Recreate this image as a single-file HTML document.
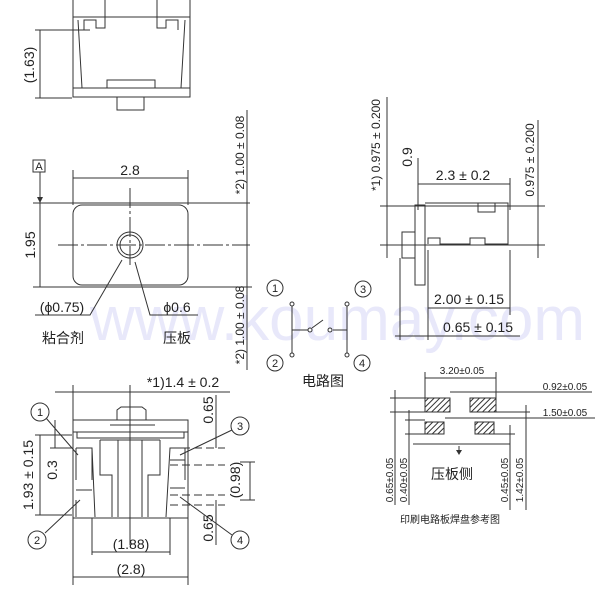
<!DOCTYPE html>
<html><head><meta charset="utf-8"><style>
html,body{margin:0;padding:0;background:#fff;width:600px;height:595px;overflow:hidden}
svg{display:block}
text{font-family:"Liberation Sans","Noto Sans CJK SC",sans-serif;fill:#222}
</style></head><body>
<svg width="600" height="595" viewBox="0 0 600 595" xmlns="http://www.w3.org/2000/svg">
<defs>
<pattern id="h" width="4" height="4" patternUnits="userSpaceOnUse" patternTransform="rotate(45)"><rect width="4" height="4" fill="#fff"/><line x1="0" y1="0" x2="0" y2="4" stroke="#333" stroke-width="2"/></pattern>
</defs>
<text x="90" y="340" font-size="62" fill="#e6e6f8" style="fill:#e8e8fa">www.koumay.com</text>
<g stroke="#333" stroke-width="1" fill="none">
<!-- top view -->
<path d="M73 0 V97 H190 V0"/>
<path d="M73 17 H190 M73 88 H190"/>
<path d="M105 0 V28 H96 V20 H84 V30"/>
<path d="M157 0 V28 H166 V20 H178 V30"/>
<path d="M78 20 L82 88 M185 20 L181 88"/>
<path d="M107 88 V80 H155 V88"/>
<path d="M117 97 V110 H144 V97"/>
<path d="M35 30 H90 M35 98 H72 M40 30 V98"/>
<!-- middle view -->
<rect x="73" y="205" width="115" height="80" rx="9"/>
<path d="M105 203 H155 M110 287 H160"/>
<circle cx="130" cy="245" r="13"/><circle cx="130" cy="245" r="10"/>
<path d="M130 188 V265 M58 245 H250" stroke-dasharray="20 3 3 3"/>
<path d="M73 170 V205 M188 170 V205 M73 178 H188"/>
<path d="M40 172 V287 M33 203 H250 M33 287 H252 M247 110 V370"/>
<path d="M122 260 L90 315 H35 M135 262 L150 315 H198"/>
<!-- bottom view -->
<path d="M55 392 H230 M73 385 V585 M130 385 V545"/>
<path d="M117 420 V410 L121 407 H142 L146 410 V420"/>
<rect x="73" y="420" width="115" height="98"/>
<path d="M73 432 H188 M110 425 H155 M77 432 V438 H184 V432"/>
<path d="M76 448 H92 L95 517 M185 448 H170 L166 517"/>
<path d="M76 448 V480 M92 448 V480 M76 490 H92 M76 500 V517 M185 448 V480 M170 460 H185 M170 488 H185"/>
<path d="M100 440 V475 H112 V517 M160 440 V475 H148 V517 M118 440 V517 M142 440 V517 M100 440 H160"/>
<path d="M92 518 V555 M170 518 V555 M92 552 H170 M188 518 V585 M73 577 H188"/>
<path d="M35 435 H72 M35 515 H72 M40 435 V515 M55 420 V448 M50 448 H72"/>
<path d="M170 448 H225 M170 465 H225 M170 495 H225 M170 505 H225" stroke-dasharray="8 4"/>
<path d="M216 395 V448 M216 500 V545 M250 462 V500 M240 462 H255 M240 500 H255"/>
<path d="M46 418 L78 455 M45 533 L80 500 M232 430 L180 455 M232 535 L180 497"/>
<!-- side view -->
<path d="M387 97 V258 M538 120 V258 M380 206 H545 M380 245 H545"/>
<path d="M418 158 V210 M510 178 V210 M418 184 H510"/>
<path d="M415 205 V285 H425 V205 Z M402 232 H415 V258 H402 Z"/>
<path d="M425 203 H508 V244 H485 V238 H470 V244 H440 V238 H428 V244 M478 203 V212 H495 V203"/>
<path d="M400 258 V340 M428 250 V340 M510 250 V315 M428 308 H510 M395 336 H520"/>
<!-- circuit -->
<path d="M292 304 V355 M292 330 H308 M312 328 L323 320 M333 330 H347 M347 304 V355"/>
<!-- PCB -->
<path d="M425 372 V398 M496 372 V398 M425 378 H496 M450 392 H592 M445 418 H595 M413 444 H510"/>
<path d="M390 398 H425 M390 412 H425 M395 390 V505 M405 420 H425 M405 434 H425 M409 410 V505"/>
<path d="M496 412 H530 M494 434 H515 M510 425 V510 M526 405 V510 M459 446 V453"/>
</g>
<g fill="#fff" stroke="#333">
<circle cx="292" cy="304" r="2"/><circle cx="292" cy="355" r="2"/><circle cx="347" cy="304" r="2"/><circle cx="347" cy="355" r="2"/><circle cx="310" cy="330" r="2"/><circle cx="330" cy="330" r="2"/>
<circle cx="40" cy="412" r="9"/><circle cx="37" cy="540" r="9"/><circle cx="240" cy="426" r="9"/><circle cx="240" cy="540" r="9"/>
<circle cx="275" cy="288" r="8"/><circle cx="363" cy="289" r="8"/><circle cx="275" cy="363" r="8"/><circle cx="362" cy="363" r="8"/>
</g>
<g fill="url(#h)" stroke="#333">
<rect x="425" y="398" width="25" height="14"/><rect x="470" y="398" width="26" height="14"/>
<rect x="425" y="422" width="19" height="12"/><rect x="475" y="422" width="19" height="12"/>
</g>
<path d="M40 203 l-3 -6 h6z M459 455 l-3 -5 h6z" fill="#333"/>
<rect x="33" y="160" width="12" height="12" fill="none" stroke="#333"/>
<g font-size="14" text-anchor="middle">
<text x="39" y="170" font-size="11">A</text>
<text x="130" y="175">2.8</text>
<text transform="translate(34,65) rotate(-90)">(1.63)</text>
<text transform="translate(35,245) rotate(-90)">1.95</text>
<text transform="translate(244,155) rotate(-90)" font-size="12">*2) 1.00 ± 0.08</text>
<text transform="translate(244,325) rotate(-90)" font-size="12">*2) 1.00 ± 0.08</text>
<text x="62" y="312">(ϕ0.75)</text>
<text x="63" y="343">粘合剂</text>
<text x="177" y="312">ϕ0.6</text>
<text x="177" y="343">压板</text>
<text x="183" y="387">*1)1.4 ± 0.2</text>
<text transform="translate(33,475) rotate(-90)">1.93 ± 0.15</text>
<text transform="translate(57,470) rotate(-90)">0.3</text>
<text transform="translate(213,410) rotate(-90)">0.65</text>
<text transform="translate(213,528) rotate(-90)">0.65</text>
<text transform="translate(240,480) rotate(-90)">(0.98)</text>
<text x="131" y="549">(1.88)</text>
<text x="131" y="574">(2.8)</text>
<text transform="translate(380,145) rotate(-90)" font-size="12">*1) 0.975 ± 0.200</text>
<text transform="translate(412,157) rotate(-90)">0.9</text>
<text x="463" y="180">2.3 ± 0.2</text>
<text transform="translate(534,160) rotate(-90)" font-size="12">0.975 ± 0.200</text>
<text x="469" y="304">2.00 ± 0.15</text>
<text x="478" y="332">0.65 ± 0.15</text>
<text x="323" y="386">电路图</text>
<text x="452" y="479">压板侧</text>
<g font-size="11">
<text x="40" y="416">1</text><text x="37" y="544">2</text><text x="240" y="430">3</text><text x="240" y="544">4</text>
<text x="275" y="292">1</text><text x="363" y="293">3</text><text x="275" y="367">2</text><text x="362" y="367">4</text>
</g>
<g font-size="10">
<text x="462" y="374">3.20±0.05</text>
<text x="565" y="390">0.92±0.05</text>
<text x="565" y="416">1.50±0.05</text>
<text transform="translate(393,480) rotate(-90)">0.65±0.05</text>
<text transform="translate(407,480) rotate(-90)">0.40±0.05</text>
<text transform="translate(508,480) rotate(-90)">0.45±0.05</text>
<text transform="translate(523,480) rotate(-90)">1.42±0.05</text>
<text x="450" y="523">印刷电路板焊盘参考图</text>
</g>
</g>
</svg>
</body></html>
